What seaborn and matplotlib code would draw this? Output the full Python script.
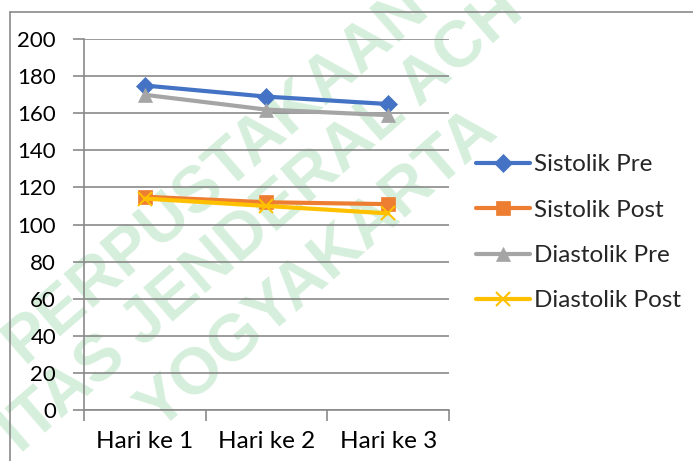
import numpy as np
import pandas as pd
import matplotlib.pyplot as plt
import seaborn as sns

days = ['Hari ke 1', 'Hari ke 2', 'Hari ke 3']
sistolik_pre = [175, 169, 165]
sistolik_post = [115, 112, 111]
diastolik_pre = [170, 162, 159]
diastolik_post = [114, 110, 106]

series = {
    'Sistolik Pre': sistolik_pre,
    'Sistolik Post': sistolik_post,
    'Diastolik Pre': diastolik_pre,
    'Diastolik Post': diastolik_post,
}
colors = ['#4472C4', '#ED7D31', '#A5A5A5', '#FFC000']
markers = ['D', 's', '^', 'x']
msizes = [9, 10, 10, 10]

df = pd.DataFrame([(d, name, v) for name, vals in series.items() for d, v in zip(days, vals)],
                  columns=['Hari', 'Seri', 'Nilai'])

sns.set_theme(style="white")
plt.rcParams['font.family'] = ['Lato', 'DejaVu Sans']

fig = plt.figure(figsize=(6.93, 4.61), dpi=100)
ax = fig.add_axes([0.121, 0.111, 0.527, 0.804])
ax.set_facecolor('none')

for (name, _), c, m, ms in zip(series.items(), colors, markers, msizes):
    sub = df[df['Seri'] == name]
    sns.lineplot(data=sub, x='Hari', y='Nilai', ax=ax, color=c, marker=m, markersize=ms,
                 linewidth=3, label=name, markeredgecolor=c, markeredgewidth=1.5 if m == 'x' else 0.5,
                 zorder=3)

ax.set_xlim(-0.5, 2.5)
ax.set_ylim(0, 200)
ax.set_yticks(range(0, 201, 20))
ax.yaxis.grid(True, color='#8a8a8a', linewidth=1.2)
ax.set_axisbelow(True)
ax.set_xlabel('')
ax.set_ylabel('')
ax.set_xticks([0, 1, 2])
ax.set_xticklabels(days)
ax.set_xticks([-0.5, 0.5, 1.5, 2.5], minor=True)
ax.tick_params(axis='x', which='major', length=0, pad=15, labelsize=17.5, colors='black')
ax.tick_params(axis='x', which='minor', length=8, width=1.2, color='#8a8a8a', direction='out', bottom=True)
ax.tick_params(axis='y', length=8, width=1.2, color='#8a8a8a', direction='out', left=True,
               labelsize=16, pad=12, labelcolor='black')
for s in ['top', 'right']:
    ax.spines[s].set_visible(False)
for s in ['left', 'bottom']:
    ax.spines[s].set_color('#8a8a8a')
    ax.spines[s].set_linewidth(1.2)

ax.legend(loc='upper left', bbox_to_anchor=(0.687, 0.665), bbox_transform=fig.transFigure,
          frameon=False, fontsize=17.5, handlelength=2.2, handletextpad=0.2, labelspacing=1.0,
          borderaxespad=0, borderpad=0)

# chart area border
fig.add_artist(plt.Line2D([10 / 693, 1], [1 - 12 / 461, 1 - 12 / 461], color='#8a8a8a', linewidth=1.2))
fig.add_artist(plt.Line2D([10 / 693, 10 / 693], [0, 1 - 12 / 461], color='#8a8a8a', linewidth=1.2))

# watermark
wm = dict(color='#2fae4e', alpha=0.2, fontsize=47, fontweight='bold', rotation=41,
          ha='center', va='center', family=['Liberation Sans'], zorder=-1)
fig.text(217 / 693, 1 - 175 / 461, 'PERPUSTAKAAN', **wm)
fig.text(262 / 693, 1 - 222 / 461, 'ITAS JENDERAL ACH', **wm)
fig.text(318 / 693, 1 - 270 / 461, 'YOGYAKARTA', **wm)

plt.savefig('out.png', dpi=100)
plt.close()
